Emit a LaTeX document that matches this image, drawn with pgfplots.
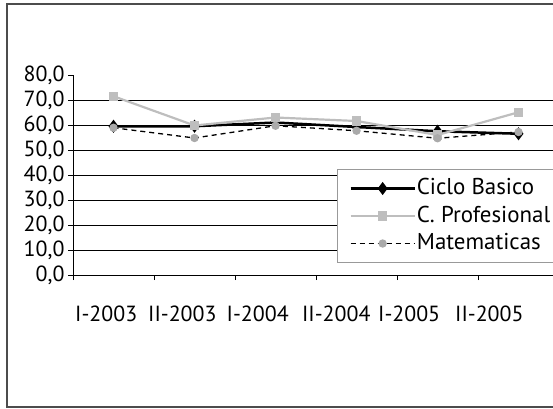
\documentclass[border=0pt]{standalone}
\usepackage{pgfplots}
\pgfplotsset{compat=1.18}
\usepackage{fontspec}
\setmainfont{PT Sans}
\definecolor{lgray}{RGB}{190,190,190}
\definecolor{mgray}{RGB}{170,170,170}
\begin{document}
\begin{tikzpicture}[x=1bp,y=1bp]
\useasboundingbox (0,0) rectangle (553,408);
\clip (0,0) rectangle (553,408);
\draw[line width=1.3bp, black!70] (7,1) rectangle (600,404);
\begin{axis}[
  at={(73bp,133bp)}, anchor=south west,
  scale only axis, width=486bp, height=200bp,
  xmin=-0.5, xmax=5.5, ymin=0, ymax=80,
  axis x line*=bottom, axis y line*=left,
  axis line style={line width=1bp, -},
  xtick={-0.09,0.85,1.78,2.75,3.65,4.64},
  xticklabels={I-2003,II-2003,I-2004,II-2004,I-2005,II-2005},
  major x tick style={draw=none},
  minor xtick={-0.5,0.5,...,5.5},
  minor x tick style={line width=1bp, black},
  minor tick length=5bp,
  ytick={0,10,...,80},
  major y tick style={line width=1bp, black},
  major tick length=5bp,
  tick align=outside,
  extra y ticks={10,20,...,70},
  extra y tick style={grid=major, major tick length=0pt, yticklabels={}},
  grid style={line width=1bp, black},
  yticklabel style={font=\fontsize{22}{22}\selectfont, /pgf/number format/.cd, fixed, fixed zerofill, precision=1, use comma, assume math mode=true},
  xticklabel style={font=\fontsize{22}{22}\selectfont, yshift=-22bp},
  legend style={at={(0.543,0.53)}, anchor=north west, draw=black!40, line width=1bp,
    font=\fontsize{23}{24}\selectfont, inner xsep=12bp, inner ysep=7bp, row sep=3.5bp,
    nodes={inner sep=1bp, text height=17bp, text depth=5bp}},
  legend cell align=left,
  legend image code/.code={
    \draw[#1,mark repeat=2,mark phase=2] plot coordinates {(0bp,0bp) (32bp,0bp) (64bp,0bp)};},
  clip=false,
]
\addplot[black, line width=2.5bp, mark=diamond*, mark size=4.5bp, mark options={solid, fill=black, draw=black}]
  coordinates {(0,59.5) (1,59.5) (2,61.0) (3,59.2) (4,57.5) (5,56.5)};
\addlegendentry{Ciclo Basico}
\addplot[lgray, line width=2.2bp, mark=square*, mark size=3.5bp, mark options={solid, fill=lgray, draw=lgray}]
  coordinates {(0,71.5) (1,59.8) (2,63.0) (3,61.6) (4,56.0) (5,65.1)};
\addlegendentry{C. Profesional}
\addplot[black, line width=1.3bp, dash pattern=on 5bp off 4bp, mark=*, mark size=3.5bp, mark options={solid, fill=mgray, draw=mgray}]
  coordinates {(0,58.9) (1,54.8) (2,59.7) (3,57.7) (4,54.7) (5,57.2)};
\addlegendentry{Matematicas}
\end{axis}
\end{tikzpicture}
\end{document}
